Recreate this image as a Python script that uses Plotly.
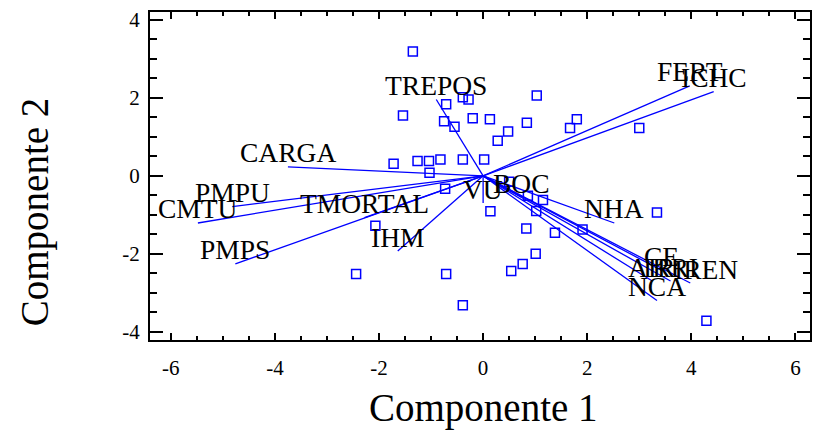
import plotly.graph_objects as go

# ---- observation scores (Componente 1, Componente 2) ----
obs_x = [-1.35, 1.03, -0.39, -0.28, -0.71, -1.54, -0.75, -0.20, 0.13, 0.84,
         -0.55, 1.80, 1.67, 3.00, 0.48, 0.28, -1.72, -1.26, -1.04, -0.82,
         -0.39, 0.02, -1.03, -0.73, 0.50, 0.86, 1.15, 0.14, 1.02, 3.34,
         -2.07, 1.91, 0.83, 1.38, 1.01, 0.76, 0.54, -2.44, -0.71, -0.39, 4.29]
obs_y = [3.19, 2.06, 2.02, 1.96, 1.84, 1.55, 1.40, 1.48, 1.45, 1.36,
         1.26, 1.45, 1.23, 1.23, 1.14, 0.90, 0.31, 0.38, 0.38, 0.42,
         0.42, 0.42, 0.08, -0.33, -0.15, -0.51, -0.62, -0.91, -0.90, -0.94,
         -1.28, -1.38, -1.35, -1.46, -2.00, -2.26, -2.44, -2.52, -2.52, -3.32, -3.72]

# ---- variable vectors (loadings, end points) ----
var_names = ["TREPOS", "FERT", "ICHC", "CARGA", "PMPU", "CMTU", "TMORTAL", "PMPS",
             "IHM", "VU", "BOC", "NHA", "CE", "AIR", "IRRI", "IREN", "NCA"]
var_x = [-0.90, 3.97, 4.43, -3.75, -4.82, -5.48, -2.28, -4.76,
         -1.64, 0.00, 0.74, 2.52, 3.42, 3.25, 3.60, 3.98, 3.34]
var_y = [1.96, 2.31, 2.16, 0.23, -0.79, -1.21, -1.07, -2.26,
         -1.93, -0.70, -0.55, -1.21, -2.42, -2.70, -2.70, -2.75, -3.20]

x_ticks = [-6, -4, -2, 0, 2, 4, 6]
x_ticktext = ["-6", "-4", "-2", "0", "2", "4", "6"]
y_ticks = [-4, -2, 0, 2, 4]
y_ticktext = ["-4", "-2", "0", "2", "4"]
x_title = "Componente 1"
y_title = "Componente 2"

# label pixel nudges (style only)
label_xshift = {"IREN": 16}

BLUE = "#0000ff"
SERIF = "Liberation Serif, Times New Roman, serif"

fig = go.Figure()

# vector segments from origin
lx, ly = [], []
for vx, vy in zip(var_x, var_y):
    lx += [0, vx, None]
    ly += [0, vy, None]
fig.add_trace(go.Scatter(x=lx, y=ly, mode="lines",
                         line=dict(color=BLUE, width=1.3),
                         hoverinfo="skip", showlegend=False))

# observations
fig.add_trace(go.Scatter(x=obs_x, y=obs_y, mode="markers",
                         marker=dict(symbol="square-open", size=9,
                                     color=BLUE, line=dict(color=BLUE, width=1.5)),
                         showlegend=False))

for name, vx, vy in zip(var_names, var_x, var_y):
    fig.add_annotation(x=vx, y=vy, text=name, showarrow=False,
                       xanchor="center", yanchor="middle",
                       yshift=14, xshift=label_xshift.get(name, 0),
                       font=dict(family=SERIF, size=27.5, color="black"))

# axis titles
fig.add_annotation(x=0.506, y=-0.207, xref="paper", yref="paper", text=x_title,
                   showarrow=False, xanchor="center", yanchor="middle",
                   font=dict(family=SERIF, size=39, color="black"))
fig.add_annotation(x=-0.174, y=0.39, xref="paper", yref="paper", text=y_title,
                   showarrow=False, xanchor="center", yanchor="middle", textangle=-90,
                   font=dict(family=SERIF, size=39, color="black"))

axis_common = dict(
    showline=True, linecolor="black", linewidth=2, mirror="allticks",
    ticks="inside", tickcolor="black", tickwidth=1.5,
    showgrid=False, zeroline=False,
    tickfont=dict(family=SERIF, size=21, color="black"),
)

fig.update_xaxes(**axis_common, range=[-6.40, 6.28],
                 tickvals=x_ticks, ticktext=x_ticktext, ticklen=7,
                 minor=dict(ticks="inside", dtick=0.5, ticklen=4,
                            tickcolor="black", tickwidth=1.5),
                 ticklabelstandoff=8)
fig.update_yaxes(**axis_common, range=[-4.213, 4.205],
                 tickvals=y_ticks, ticktext=y_ticktext, ticklen=13,
                 minor=dict(ticks="inside", dtick=0.5, ticklen=7,
                            tickcolor="black", tickwidth=1.5),
                 ticklabelstandoff=4)

fig.update_layout(width=814, height=430,
                  margin=dict(l=150, r=2, t=12, b=90),
                  paper_bgcolor="white", plot_bgcolor="white")

fig.write_html("out.html")
